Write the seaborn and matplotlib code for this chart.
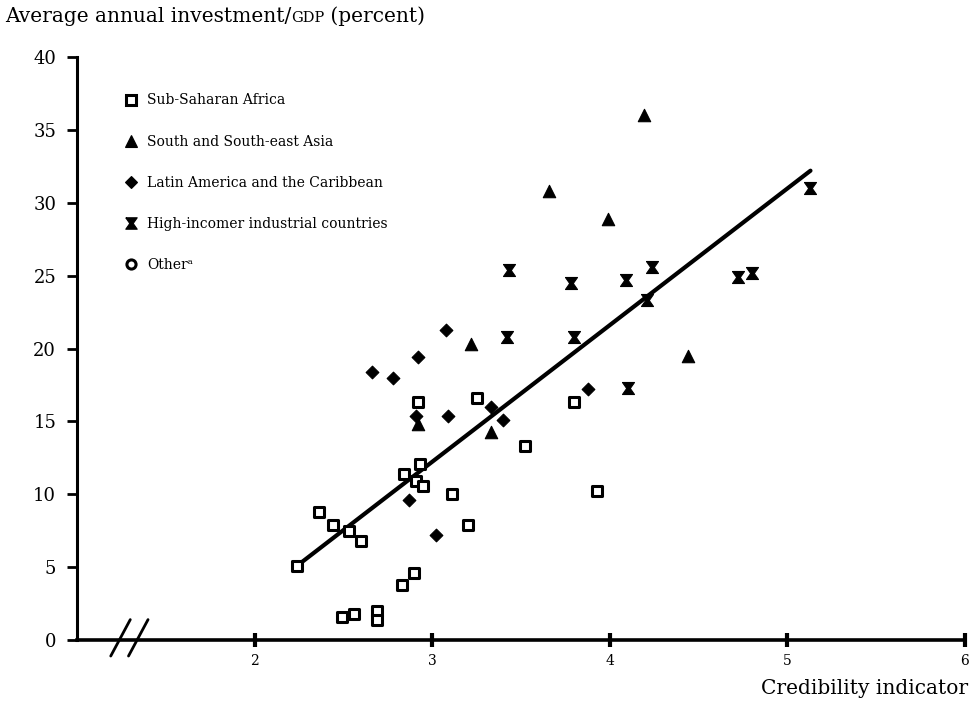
import matplotlib
matplotlib.use("Agg")
import matplotlib.pyplot as plt
import seaborn as sns
import pandas as pd
from matplotlib.lines import Line2D

# Country observations: credibility indicator vs. average investment/GDP (%)
ssa_x = [2.24, 2.36, 2.44, 2.53, 2.60, 2.49, 2.56, 2.69, 2.69, 2.83, 2.90,
         2.84, 2.91, 2.95, 2.93, 2.92, 3.25, 3.52, 3.80, 3.11, 3.20, 3.93]
ssa_y = [5.1, 8.8, 7.9, 7.5, 6.8, 1.6, 1.8, 2.0, 1.4, 3.8, 4.6,
         11.4, 10.9, 10.6, 12.1, 16.3, 16.6, 13.3, 16.3, 10.0, 7.9, 10.2]

asia_x = [2.92, 3.22, 3.33, 3.66, 3.99, 4.19, 4.44]
asia_y = [14.8, 20.3, 14.3, 30.8, 28.9, 36.0, 19.5]

latam_x = [2.66, 2.78, 2.92, 3.08, 2.91, 3.09, 3.33, 3.40, 2.87, 3.02, 3.88]
latam_y = [18.4, 18.0, 19.4, 21.3, 15.4, 15.4, 16.0, 15.1, 9.6, 7.2, 17.2]

high_x = [3.42, 3.80, 3.43, 3.78, 4.09, 4.24, 4.21, 4.10, 4.72, 4.80, 5.13]
high_y = [20.8, 20.8, 25.4, 24.5, 24.7, 25.6, 23.3, 17.3, 24.9, 25.2, 31.0]

# Fitted regression line (end points)
fit_x = [2.24, 5.13]
fit_y = [5.1, 32.2]

regions = ["Sub-Saharan Africa", "South and South-east Asia",
           "Latin America and the Caribbean", "High-incomer industrial countries",
           "Other\u1d43"]

y_ticks = [0, 5, 10, 15, 20, 25, 30, 35, 40]
x_ticks = [2, 3, 4, 5, 6]

df = pd.concat([
    pd.DataFrame({"x": ssa_x, "y": ssa_y, "region": regions[0]}),
    pd.DataFrame({"x": asia_x, "y": asia_y, "region": regions[1]}),
    pd.DataFrame({"x": latam_x, "y": latam_y, "region": regions[2]}),
    pd.DataFrame({"x": high_x, "y": high_y, "region": regions[3]}),
], ignore_index=True)

sns.set_theme(style="white")
plt.rcParams["font.family"] = ["DejaVu Serif"]
for key in ["text.color", "axes.labelcolor", "xtick.color", "ytick.color", "axes.edgecolor"]:
    plt.rcParams[key] = "black"

hourglass = [(-1, 1), (1, 1), (0.3, 0), (1, -1), (-1, -1), (-0.3, 0), (-1, 1)]
styles = {
    regions[0]: dict(marker="s", s=48, facecolor="white", edgecolor="black", linewidth=2.2),
    regions[1]: dict(marker="^", s=80, facecolor="black", edgecolor="black", linewidth=0.8),
    regions[2]: dict(marker="D", s=42, facecolor="black", edgecolor="black", linewidth=0.8),
    regions[3]: dict(marker=hourglass, s=75, facecolor="black", edgecolor="black", linewidth=0.8),
    regions[4]: dict(marker="o", s=48, facecolor="white", edgecolor="black", linewidth=2.2),
}

fig = plt.figure(figsize=(9.78, 7.06), dpi=100)
ax = fig.add_axes([77 / 978, 66 / 706, 888 / 978, 583 / 706])

sns.lineplot(x=fit_x, y=fit_y, ax=ax, color="black", linewidth=3.0, zorder=2)

for name in regions[:4]:
    sub = df[df["region"] == name]
    st = styles[name]
    sns.scatterplot(data=sub, x="x", y="y", ax=ax, marker=st["marker"], s=st["s"],
                    color=st["facecolor"], edgecolor=st["edgecolor"],
                    linewidth=st["linewidth"], zorder=3, legend=False)

ax.set_xlim(1, 6)
ax.set_ylim(0, 40)
ax.set_xticks(x_ticks)
ax.set_yticks(y_ticks)
ax.set_xticklabels([str(v) for v in x_ticks], fontsize=10)
ax.set_yticklabels([str(v) for v in y_ticks], fontsize=13)
ax.tick_params(axis="x", bottom=True, direction="inout", length=10, width=3, pad=5,
               color="black", labelcolor="black")
ax.tick_params(axis="y", left=True, direction="out", length=7, width=2, pad=8,
               color="black", labelcolor="black")
ax.set_xlabel("")
ax.set_ylabel("")

for side in ["top", "right"]:
    ax.spines[side].set_visible(False)
ax.spines["left"].set_linewidth(2.2)
ax.spines["bottom"].set_linewidth(2.6)

# Axis break marks on the x axis
for x0, x1 in [(1.19, 1.30), (1.29, 1.40)]:
    ax.add_line(Line2D([x0, x1], [-1.1, 1.4], color="black", linewidth=2.0, clip_on=False))

# Legend
handles = []
for name in regions:
    st = styles[name]
    handles.append(Line2D([], [], linestyle="none", marker=st["marker"],
                          markersize=(st["s"] ** 0.5) * 0.95,
                          markerfacecolor=st["facecolor"], markeredgecolor=st["edgecolor"],
                          markeredgewidth=st["linewidth"], label=name))
leg = ax.legend(handles=handles, loc="upper left", bbox_to_anchor=(0.045, 0.947),
                frameon=False, fontsize=10, labelspacing=1.95, handletextpad=0.55,
                handlelength=1.2, borderaxespad=0)

# Titles
t1 = fig.text(5 / 978, 1 - 16 / 706, "Average annual investment/", fontsize=14.5,
              ha="left", va="center")
t2 = ax.annotate("GDP", xy=(1, 0), xycoords=t1, fontsize=10.5, ha="left", va="bottom")
ax.annotate(" (percent)", xy=(1, 0), xycoords=t2, fontsize=14.5, ha="left", va="bottom")
fig.text(968 / 978, 1 - 688 / 706, "Credibility indicator", fontsize=14.5,
         ha="right", va="center")

fig.savefig("out.png", dpi=100, facecolor="white")
